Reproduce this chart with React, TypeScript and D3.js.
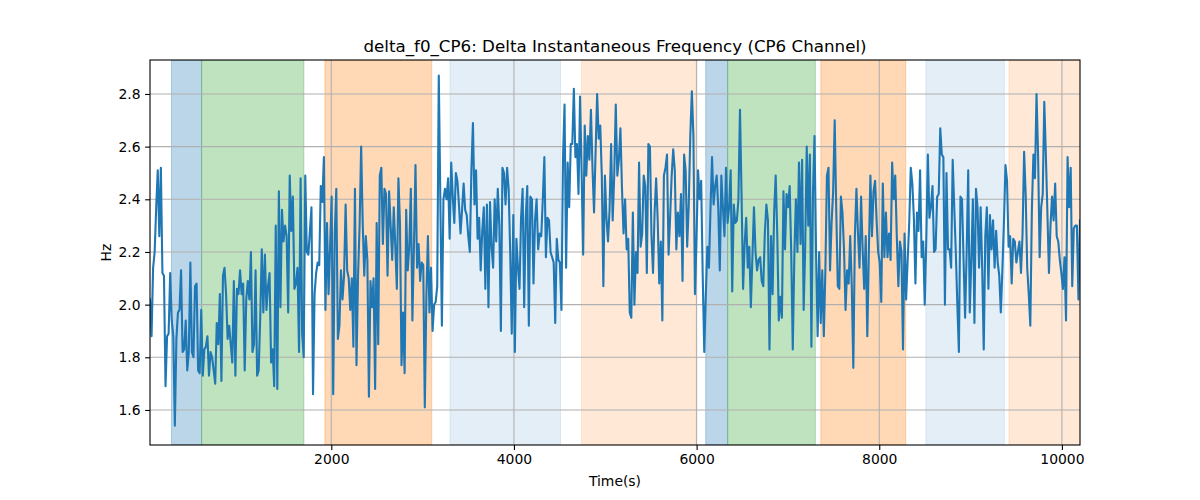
import { useEffect, useRef } from 'react';
import * as d3 from 'd3';

// delta f0 on CP6, one sample every 17 s starting at t = 15 s
const hz = [
  2.02, 1.88, 2.14, 2.20, 2.37, 2.51, 2.26, 2.52, 2.12, 2.11, 1.69, 1.88, 1.89, 2.12, 1.94, 1.88, 1.54, 1.87, 1.97, 1.98,
  2.13, 1.82, 1.83, 1.94, 1.75, 1.82, 2.16, 1.82, 1.80, 2.07, 2.08, 1.75, 1.74, 1.98, 1.73, 1.83, 1.84, 1.88, 1.73, 1.82,
  1.80, 1.75, 1.70, 1.93, 1.85, 2.04, 1.71, 2.11, 2.14, 2.04, 1.87, 1.92, 1.85, 1.78, 2.09, 1.73, 2.06, 2.04, 2.13, 2.04,
  2.08, 1.75, 2.02, 2.09, 2.02, 2.20,
  1.82, 1.85, 2.13, 1.73, 1.75, 1.95, 2.21, 1.97, 2.19, 1.98, 2.07, 2.12, 1.78, 1.83, 1.69, 2.30, 1.68, 2.43, 1.99, 2.36,
  2.24, 2.30, 2.26, 1.97, 2.49, 2.28, 2.41, 2.06, 2.08, 2.14, 1.82, 2.48, 1.89, 1.80, 2.49, 2.20, 2.19, 2.28, 2.37, 1.66,
  2.04, 2.12, 2.16, 2.15, 2.45, 2.39, 2.56, 1.98, 2.31, 2.04, 2.22, 2.41, 1.66, 2.27, 2.44, 1.87, 1.92, 2.13, 2.02, 2.11,
  2.38, 2.13, 2.10, 1.98, 2.10, 1.84, 2.44,
  1.77, 2.11, 2.30, 2.60, 2.31, 2.11, 2.26, 2.17, 1.65, 2.09, 1.99, 2.10, 1.68, 2.31, 1.85, 2.49, 2.52, 2.23, 2.44, 2.42,
  2.11, 2.43, 2.30, 2.17, 2.37, 2.22, 2.06, 2.48, 2.31, 1.77, 1.97, 1.74, 2.36, 2.13, 2.22, 2.44, 1.94, 2.22, 2.53, 2.14,
  2.23, 2.09, 2.16, 2.15, 1.61, 2.03, 2.26, 1.97, 2.14, 1.90, 2.00, 2.01, 2.07, 2.87, 2.40, 1.92, 2.40, 2.44, 2.40, 2.48,
  2.25, 2.54, 2.41, 2.31, 2.50, 2.47,
  2.38, 2.27, 2.36, 2.46, 2.36, 2.34, 2.26, 2.20, 2.51, 2.69, 2.38, 2.51, 2.25, 2.33, 2.13, 2.28, 2.37, 2.06, 2.38, 1.99,
  2.39, 2.22, 2.14, 2.40, 2.24, 2.44, 2.30, 1.90, 2.52, 2.50, 2.38, 2.52, 2.44, 2.20, 1.89, 2.34, 1.82, 2.25, 2.14, 2.06,
  2.33, 2.44, 1.99, 2.33, 2.45, 1.92, 2.41, 2.40, 2.08, 2.32, 2.40, 2.21, 2.27, 2.26, 2.40, 2.56, 2.18, 2.33, 2.32, 2.20,
  2.18, 2.16, 1.93, 2.25, 2.17, 2.16, 1.98,
  2.55, 2.76, 2.14, 2.54, 2.37, 2.61, 2.61, 2.82, 2.56, 2.61, 2.42, 2.79, 2.50, 2.19, 2.68, 2.49, 2.64, 2.55, 2.74, 2.52,
  2.35, 2.58, 2.80, 2.63, 2.68, 2.49, 2.07, 2.49, 2.33, 2.24, 2.36, 2.61, 2.32, 2.49, 2.76, 2.49, 2.55, 2.67, 2.44, 2.27,
  2.40, 2.21, 2.25, 1.97, 1.95, 2.35, 2.00, 2.20, 2.12, 2.54, 2.22, 2.27, 2.49, 2.45, 2.12, 2.61, 2.60, 2.26, 2.12, 2.35,
  2.48, 2.32, 2.08, 2.24, 1.94, 2.49,
  2.52, 2.57, 2.19, 2.33, 2.49, 2.59, 2.51, 2.21, 2.35, 2.26, 2.42, 2.09, 2.57, 2.51, 2.22, 2.38, 2.64, 2.81, 2.64, 2.04,
  2.25, 2.51, 2.40, 2.47, 2.11, 1.82, 2.04, 2.22, 2.14, 2.36, 2.56, 2.38, 2.45, 2.49, 2.37, 2.13, 2.49, 2.37, 2.26, 2.52,
  2.31, 2.37, 2.51, 2.05, 2.38, 2.31, 2.32, 2.40, 2.74, 2.42, 2.06, 2.23, 2.33, 2.14, 2.22, 1.99, 2.18, 2.37, 2.20, 2.13,
  2.17, 2.18, 2.09, 2.07, 2.27, 2.38, 2.32,
  1.83, 2.26, 2.04, 2.35, 2.49, 2.27, 1.94, 2.03, 1.95, 2.43, 2.21, 2.42, 2.37, 2.45, 2.20, 1.83, 2.18, 2.40, 2.20, 2.54,
  2.23, 2.55, 1.98, 2.22, 2.60, 2.30, 2.57, 1.84, 2.42, 2.64, 2.20, 1.88, 2.20, 1.93, 2.13, 1.88, 2.13, 2.49, 2.52, 2.13,
  2.31, 2.43, 2.70, 2.36, 2.07, 2.06, 2.41, 2.35, 2.21, 1.98, 2.13, 2.08, 2.26, 2.07, 1.76, 2.26, 2.44, 2.27, 2.14, 2.41,
  2.21, 2.06, 2.26, 1.88, 2.20, 2.49,
  2.26, 2.43, 2.47, 2.32, 2.20, 2.16, 2.01, 2.46, 2.18, 2.35, 2.18, 2.27, 2.17, 2.54, 2.40, 2.49, 2.26, 2.07, 2.24, 2.20,
  1.83, 2.27, 2.02, 2.17, 2.31, 2.52, 2.46, 2.33, 2.08, 2.35, 2.28, 2.51, 2.18, 2.24, 2.00, 2.25, 2.57, 2.33, 2.37, 2.45,
  2.20, 2.21, 2.41, 2.42, 2.67, 2.57, 2.56, 2.00, 2.50, 2.21, 2.21, 2.14, 2.55, 2.37, 2.20, 2.00, 1.82, 2.41, 2.40, 2.17,
  1.95, 2.20, 2.51, 1.97, 2.17, 2.40, 1.93,
  2.44, 2.37, 2.14, 2.37, 2.14, 1.83, 2.26, 2.37, 2.06, 2.34, 2.21, 2.32, 2.14, 2.28, 2.16, 2.11, 1.97, 2.13, 2.31, 2.53,
  2.47, 2.22, 2.26, 2.08, 2.25, 2.24, 2.16, 2.20, 2.24, 2.12, 2.27, 2.58, 2.42, 2.14, 2.04, 1.92, 2.36, 2.57, 2.48, 2.80,
  2.57, 2.18, 2.37, 2.42, 2.77, 2.57, 2.35, 2.12, 2.30, 2.41, 2.32, 2.46, 2.26, 2.24, 2.17, 2.12, 2.06, 2.18, 1.94, 2.56,
  2.37, 2.52, 2.07, 2.29, 2.30, 2.30, 2.02, 2.32,
];
const t0 = 15;
const dt = 17;

// shaded segments (seconds)
const segStart = [250, 580, 1930, 3300, 4740, 6100, 6340, 7360, 8510, 9420];
const segEnd = [580, 1700, 3100, 4510, 5990, 6340, 7300, 8290, 9370, 10300];
const segKind = ['a', 'b', 'c', 'd', 'e', 'a', 'b', 'c', 'd', 'e'];

const xTicks = [2000, 4000, 6000, 8000, 10000];
const yTicks = [1.6, 1.8, 2.0, 2.2, 2.4, 2.6, 2.8];

const kindStyle: Record<string, { color: string; alpha: number }> = {
  a: { color: '#1f77b4', alpha: 0.3 },
  b: { color: '#2ca02c', alpha: 0.3 },
  c: { color: '#ff7f0e', alpha: 0.3 },
  d: { color: '#1f77b4', alpha: 0.12 },
  e: { color: '#ff7f0e', alpha: 0.17 },
};

export default function App() {
  const svgRef = useRef<SVGSVGElement>(null);

  useEffect(() => {
    if (!svgRef.current) return;
    document.body.style.margin = '0';

    const width = 1200;
    const height = 500;
    const margin = { top: 60, right: 120, bottom: 55, left: 150 };
    const font = 'DejaVu Sans, sans-serif';

    d3.select(svgRef.current).selectAll('*').remove();
    const svg = d3.select(svgRef.current).attr('width', width).attr('height', height);

    const times = hz.map((_, i) => t0 + i * dt);
    const xScale = d3
      .scaleLinear()
      .domain(d3.extent(times) as [number, number])
      .range([margin.left, width - margin.right]);
    const yScale = d3
      .scaleLinear()
      .domain([1.467, 2.929])
      .range([height - margin.bottom, margin.top]);

    const [x0, x1] = xScale.range();
    const [y0, y1] = yScale.range();

    svg
      .append('clipPath')
      .attr('id', 'plot-clip')
      .append('rect')
      .attr('x', x0)
      .attr('y', y1)
      .attr('width', x1 - x0)
      .attr('height', y0 - y1);

    const plot = svg.append('g').attr('clip-path', 'url(#plot-clip)');

    // shaded segments
    plot
      .selectAll('.seg')
      .data(segStart.map((s, i) => ({ s, e: segEnd[i], k: segKind[i] })))
      .enter()
      .append('rect')
      .attr('class', 'seg')
      .attr('x', (d) => xScale(d.s))
      .attr('y', y1)
      .attr('width', (d) => xScale(d.e) - xScale(d.s))
      .attr('height', y0 - y1)
      .attr('fill', (d) => kindStyle[d.k].color)
      .attr('fill-opacity', (d) => kindStyle[d.k].alpha)
      .attr('stroke', (d) => kindStyle[d.k].color)
      .attr('stroke-opacity', (d) => kindStyle[d.k].alpha)
      .attr('stroke-width', 1);

    // grid
    const grid = svg.append('g').attr('stroke', '#b0b0b0').attr('stroke-width', 1.1);
    xTicks.forEach((t) => {
      grid.append('line').attr('x1', xScale(t)).attr('x2', xScale(t)).attr('y1', y0).attr('y2', y1);
    });
    yTicks.forEach((t) => {
      grid.append('line').attr('x1', x0).attr('x2', x1).attr('y1', yScale(t)).attr('y2', yScale(t));
    });

    // series
    const line = d3
      .line<number>()
      .x((_, i) => xScale(times[i]))
      .y((d) => yScale(d));
    svg
      .append('path')
      .attr('clip-path', 'url(#plot-clip)')
      .datum(hz)
      .attr('d', line)
      .attr('fill', 'none')
      .attr('stroke', '#1f77b4')
      .attr('stroke-width', 2.1)
      .attr('stroke-linejoin', 'round')
      .attr('stroke-linecap', 'square');

    // axes
    const xAxis = svg
      .append('g')
      .attr('transform', `translate(0, ${y0})`)
      .call(d3.axisBottom(xScale).tickValues(xTicks).tickFormat(d3.format('d')).tickSizeOuter(0).tickSize(4.9).tickPadding(4.5));
    const yAxis = svg
      .append('g')
      .attr('transform', `translate(${x0}, 0)`)
      .call(d3.axisLeft(yScale).tickValues(yTicks).tickFormat(d3.format('.1f')).tickSizeOuter(0).tickSize(4.9).tickPadding(4.5));
    [xAxis, yAxis].forEach((ax) => {
      ax.select('.domain').remove();
      ax.selectAll('line').attr('stroke', '#000').attr('stroke-width', 1.1);
      ax.selectAll('text').style('font-family', font).style('font-size', '13.9px').attr('fill', '#000');
    });

    // frame
    svg
      .append('rect')
      .attr('x', x0)
      .attr('y', y1)
      .attr('width', x1 - x0)
      .attr('height', y0 - y1)
      .attr('fill', 'none')
      .attr('stroke', '#000')
      .attr('stroke-width', 1.1);

    svg
      .append('text')
      .attr('x', (x0 + x1) / 2)
      .attr('y', 486)
      .attr('text-anchor', 'middle')
      .style('font-family', font)
      .style('font-size', '13.9px')
      .text('Time(s)');

    svg
      .append('text')
      .attr('transform', `translate(111, ${(y0 + y1) / 2}) rotate(-90)`)
      .attr('text-anchor', 'middle')
      .style('font-family', font)
      .style('font-size', '13.9px')
      .text('Hz');

    svg
      .append('text')
      .attr('x', (x0 + x1) / 2)
      .attr('y', 52)
      .attr('text-anchor', 'middle')
      .style('font-family', font)
      .style('font-size', '16.7px')
      .text('delta_f0_CP6: Delta Instantaneous Frequency (CP6 Channel)');
  }, []);

  return (
    <div>
      <svg ref={svgRef} style={{ display: 'block' }} />
    </div>
  );
}
